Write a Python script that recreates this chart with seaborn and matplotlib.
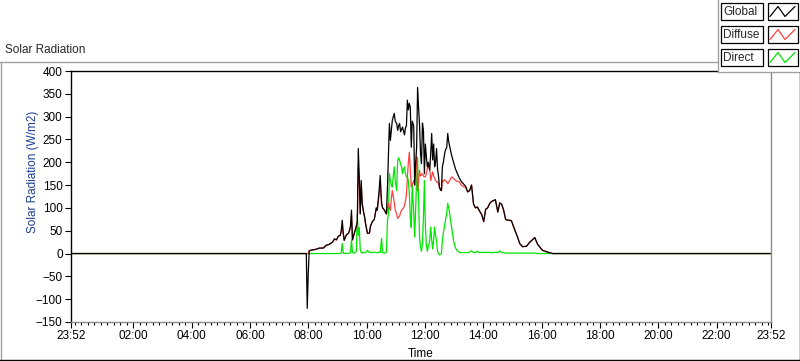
import matplotlib
matplotlib.use("Agg")
import matplotlib.pyplot as plt
from matplotlib.lines import Line2D
from matplotlib.patches import Rectangle
from matplotlib.ticker import FixedLocator, FixedFormatter
import seaborn as sns
import pandas as pd
import numpy as np

# ------------------------------------------------------------------
# Data (minutes since midnight, W/m2)
# ------------------------------------------------------------------
minute_of_day = [
    -8,
    462, 472, 476, 478, 480, 482, 488, 495, 503, 511,
    517, 523, 530, 534, 538, 542, 546, 548, 550, 552,
    554, 558, 563, 565, 567, 569, 571, 575, 579, 581,
    583, 585, 587, 589, 591, 594, 596, 598, 602, 606,
    608, 612, 616, 620, 622, 626, 628, 631, 633, 637,
    639, 641, 643, 645, 647, 649, 651, 653, 655, 657,
    659, 662, 664, 666, 668, 670, 672, 674, 676, 678,
    680, 682, 684, 686, 688, 690, 692, 694, 697, 699,
    701, 703, 705, 707, 709, 711, 713, 715, 717, 719,
    721, 723, 725, 727, 730, 732, 734, 736, 738, 740,
    742, 744, 746, 748, 750, 752, 754, 756, 758, 760,
    762, 765, 767, 769, 771, 775, 779, 783, 787, 791,
    795, 800, 804, 808, 812, 816, 820, 824, 828, 832,
    837, 841, 845, 849, 853, 857, 861, 865, 870, 874,
    878, 882, 886, 890, 894, 898, 902, 907, 911, 915,
    921, 929, 935, 946, 952, 962, 973, 983, 997, 1432,
]

global_wm2 = [
    0,
    0, 0, 0, -120, -45, 6, 8, 9, 12, 12,
    18, 20, 25, 32, 30, 38, 40, 51, 73, 45,
    29, 40, 45, 51, 60, 95, 30, 45, 60, 70,
    230, 168, 87, 160, 110, 90, 80, 65, 44, 45,
    60, 70, 75, 100, 95, 140, 171, 110, 100, 95,
    90, 87, 145, 219, 285, 248, 270, 292, 300, 307,
    290, 285, 270, 280, 285, 267, 272, 277, 268, 260,
    275, 280, 336, 315, 329, 320, 233, 290, 280, 150,
    197, 233, 364, 320, 282, 220, 197, 286, 270, 175,
    240, 212, 190, 200, 183, 220, 263, 205, 240, 190,
    200, 230, 185, 170, 145, 140, 138, 190, 200, 215,
    226, 233, 263, 245, 235, 215, 200, 185, 175, 165,
    158, 152, 147, 135, 138, 150, 109, 100, 102, 94,
    85, 70, 97, 100, 109, 114, 116, 118, 91, 111,
    108, 95, 75, 73, 73, 72, 60, 46, 35, 22,
    15, 16, 24, 35, 20, 7, 3, 0, 0, 0,
]

diffuse_wm2 = [
    0,
    0, 0, 0, 0, 0, 6, 8, 9, 12, 12,
    18, 20, 25, 32, 30, 38, 40, 48, 60, 45,
    29, 40, 45, 51, 60, 85, 30, 45, 60, 70,
    190, 160, 87, 150, 110, 90, 80, 65, 44, 45,
    60, 70, 75, 100, 95, 130, 150, 110, 100, 95,
    90, 87, 100, 110, 100, 95, 120, 138, 125, 112,
    95, 87, 77, 80, 82, 90, 95, 97, 100, 105,
    115, 127, 167, 200, 222, 182, 146, 152, 160, 150,
    190, 212, 138, 160, 182, 170, 172, 175, 170, 168,
    168, 175, 186, 192, 183, 160, 170, 179, 170, 165,
    160, 158, 155, 155, 145, 140, 138, 160, 158, 162,
    160, 157, 153, 157, 160, 168, 165, 160, 158, 157,
    150, 146, 145, 135, 138, 150, 109, 100, 102, 94,
    85, 70, 97, 100, 109, 114, 116, 118, 91, 111,
    108, 95, 75, 73, 73, 72, 60, 46, 35, 22,
    15, 16, 24, 35, 20, 7, 3, 0, 0, 0,
]

direct_wm2 = [
    0,
    0, 0, 0, 0, 0, 0, 0, 0, 0, 0,
    0, 0, 0, 0, 0, 0, 0, 2, 22, 1,
    0, 1, 0, 1, 2, 30, 2, 1, 5, 85,
    40, 57, 10, 2, 1, 3, 2, 2, 7, 2,
    3, 2, 3, 2, 2, 3, 2, 33, 2, 1,
    2, 3, 72, 87, 175, 160, 150, 146, 170, 190,
    160, 138, 204, 210, 204, 197, 190, 175, 185, 190,
    175, 168, 168, 160, 131, 80, 57, 153, 90, 36,
    100, 160, 210, 120, 36, 15, 5, 20, 80, 160,
    60, 20, 5, 15, 28, 58, 30, 10, 30, 58,
    40, 28, 5, 0, -3, -2, 0, 28, 45, 58,
    72, 90, 110, 100, 87, 58, 28, 12, 6, 3,
    2, 2, 2, 2, 3, 6, 2, 2, 5, 2,
    3, 2, 3, 2, 3, 2, 2, 3, 2, 6,
    2, 2, 1, 1, 1, 1, 1, 1, 1, 1,
    1, 1, 1, 1, 0, 0, 0, 0, 0, 0,
]

series_names = ["Global", "Diffuse", "Direct"]
series_colors = {"Global": "#000000", "Diffuse": "#ff4040", "Direct": "#00e600"}
draw_order = ["Direct", "Diffuse", "Global"]

x_tick_hours = [-8 / 60, 2, 4, 6, 8, 10, 12, 14, 16, 18, 20, 22, 24 - 8 / 60]
x_tick_labels = ["23:52", "02:00", "04:00", "06:00", "08:00", "10:00", "12:00",
                 "14:00", "16:00", "18:00", "20:00", "22:00", "23:52"]
y_ticks = list(range(-150, 401, 50))

assert len(minute_of_day) == len(global_wm2) == len(diffuse_wm2) == len(direct_wm2)

# ------------------------------------------------------------------
# Long-format table for seaborn
# ------------------------------------------------------------------
df = pd.DataFrame({
    "hour": np.array(minute_of_day) / 60.0,
    "Global": global_wm2,
    "Diffuse": diffuse_wm2,
    "Direct": direct_wm2,
})
df_long = df.melt(id_vars="hour", var_name="series", value_name="wm2")

sns.set_style("white")
plt.rcParams["font.family"] = ["Liberation Sans", "DejaVu Sans"]
plt.rcParams["font.size"] = 8.5

W, H = 800, 361
fig = plt.figure(figsize=(W / 100, H / 100), dpi=100)
fig.patch.set_facecolor("white")

ax = fig.add_axes([71 / W, 1 - 322 / H, 700 / W, 251 / H])
sns.lineplot(data=df_long, x="hour", y="wm2", hue="series", hue_order=draw_order,
             palette=series_colors, estimator=None, sort=False, linewidth=0.9,
             legend=False, ax=ax)

ax.set_xlim(-8 / 60, 24 - 8 / 60)
ax.set_ylim(-150, 400)

# ticks
ax.xaxis.set_major_locator(FixedLocator(x_tick_hours))
ax.xaxis.set_major_formatter(FixedFormatter(x_tick_labels))
ax.xaxis.set_minor_locator(FixedLocator(np.arange(0, 24, 2 / 9)))
ax.set_yticks(y_ticks)
ax.tick_params(axis="both", which="major", direction="out", length=4, width=0.8,
               color="black", labelsize=8.5, labelcolor="black", pad=2,
               bottom=True, left=True)
ax.tick_params(axis="x", which="minor", direction="out", length=2, width=0.8,
               color="black", bottom=True)

# labels
ax.set_xlabel("Time", fontsize=8.5, color="black")
ax.xaxis.set_label_coords(0.5, -0.105)
ax.set_ylabel("Solar Radiation (W/m2)", fontsize=8.5, color="#1c3f94")
ax.yaxis.set_label_coords(-0.046, 0.6)

# spines: LabVIEW-ish sunken frame
for side in ["left", "top"]:
    ax.spines[side].set_color("black")
    ax.spines[side].set_linewidth(1.0)
for side in ["right", "bottom"]:
    ax.spines[side].set_color("#8c8c8c")
    ax.spines[side].set_linewidth(1.0)

# title
fig.text(5 / W, 1 - 50 / H, "Solar Radiation", fontsize=8.5, va="center", ha="left")

# outer frame of the graph
fig.add_artist(Line2D([0, 718 / W], [1 - 61.5 / H] * 2, color="#a0a0a0", lw=1))
fig.add_artist(Line2D([0.5 / W] * 2, [1 - 61.5 / H, 1 - 359.5 / H], color="#a0a0a0", lw=1))
fig.add_artist(Line2D([0, 1], [1 - 359.5 / H] * 2, color="black", lw=1))
fig.add_artist(Line2D([799.5 / W] * 2, [1 - 72 / H, 1 - 359.5 / H], color="black", lw=1))

# legend panel (plot legend with zigzag icons)
lg = fig.add_axes([718 / W, 1 - 72 / H, 82 / W, 72 / H])
lg.set_xlim(0, 82)
lg.set_ylim(72, 0)
lg.set_xticks([])
lg.set_yticks([])
lg.set_facecolor("white")
for side in lg.spines:
    lg.spines[side].set_color("#a0a0a0")
    lg.spines[side].set_linewidth(1.0)
lg.spines["right"].set_visible(False)
lg.spines["top"].set_visible(False)

for i, name in enumerate(series_names):
    top = 3 + 23 * i
    lg.add_patch(Rectangle((3, top), 42, 17, fc="white", ec="black", lw=0.9))
    lg.text(5, top + 8.8, name, fontsize=8.5, va="center", ha="left")
    lg.add_patch(Rectangle((50, top), 29.5, 17, fc="white", ec="black", lw=0.9))
    lg.plot([52, 60, 67, 77], [top + 13.5, top + 3.5, top + 13.5, top + 3.5],
            color=series_colors[name], lw=0.9)

fig.savefig("out.png", dpi=100, facecolor="white")
